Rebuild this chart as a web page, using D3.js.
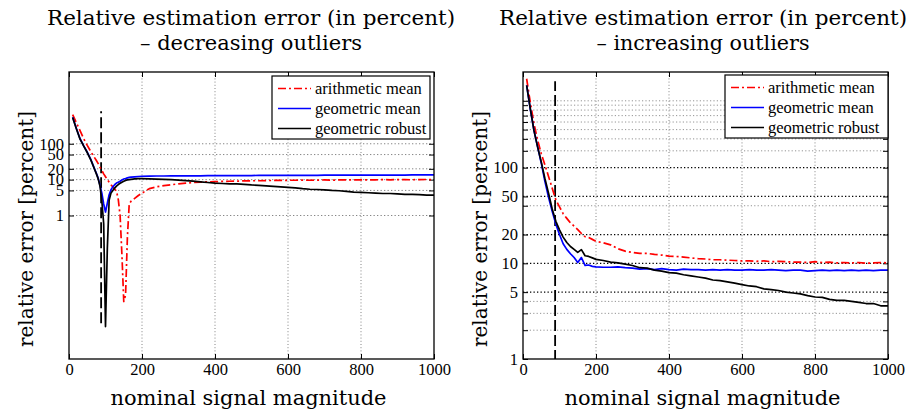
<!DOCTYPE html>
<html>
<head>
<meta charset="utf-8">
<script src="https://cdn.jsdelivr.net/npm/d3@7"></script>
<style>
  body { margin: 0; background: #fff; }
  text { font-family: "Liberation Serif", "Times New Roman", serif; fill: #000; }
</style>
</head>
<body>
<script>
// Canvas size
const width = 907, height = 413;

// ---- data: decreasing outliers (left) ----
const xLeft = [10, 20, 30, 40, 50, 60, 70, 75, 80, 85, 90, 95, 100, 105, 110, 115, 120, 125, 130, 135,
  140, 145, 150, 155, 160, 165, 170, 180, 190, 200,
  220, 240, 260, 280, 300, 320, 340, 360, 380, 400, 420, 440, 460, 480, 500, 520, 540, 560, 580, 600,
  620, 640, 660, 680, 700, 720, 740, 760, 780, 800, 820, 840, 860, 880, 900, 920, 940, 960, 980, 1000];
const leftArith = [650, 390, 235, 140, 90, 60, 41, 34, 28, 22, 18, 14.5, 12, 10, 8.5, 7.2, 6.3, 5.5, 4.8, 2.8,
  1.0, 0.08, 0.004, 0.006, 0.25, 2.1, 2.5, 3.0, 3.6, 4.2,
  5.6, 6.3, 6.8, 7.2, 7.6, 8.0, 8.3, 8.5, 8.7, 8.8, 8.9, 9.0, 9.1, 9.2, 9.3, 9.3, 9.4, 9.5, 9.5, 9.6,
  9.6, 9.7, 9.6, 9.7, 9.8, 9.7, 9.8, 9.8, 9.9, 9.8, 9.9, 9.9, 10.0, 9.9, 10.0, 10.0, 9.9, 10.0, 10.1, 10.0];
const leftGeo = [550, 270, 140, 89, 58, 36, 20, 15, 11, 6.8, 4.2, 2.1, 1.25, 2.2, 3.8, 5.2, 6.3, 7.2, 8.0, 8.5,
  9.0, 9.8, 10.4, 10.7, 11.2, 11.5, 11.8, 12.0, 12.2, 12.4,
  12.5, 12.6, 12.6, 12.7, 12.7, 12.8, 12.8, 12.8, 12.9, 12.9, 12.9, 13.0, 13.0, 13.0, 13.0, 13.1, 13.1, 13.1, 13.1, 13.2,
  13.2, 13.2, 13.2, 13.2, 13.3, 13.3, 13.3, 13.3, 13.3, 13.3, 13.4, 13.4, 13.4, 13.4, 13.4, 13.4, 13.5, 13.5, 13.5, 13.5];
const leftRobust = [540, 265, 137, 87, 57, 35, 19.5, 14.5, 10.5, 6.5, 2.5, 0.6, 0.0008, 0.12, 2.7, 4.2, 5.0, 5.8, 6.6, 7.3,
  7.9, 8.5, 9.0, 9.5, 9.8, 10.0, 10.2, 10.5, 10.7, 10.7,
  10.5, 10.3, 10.2, 10.0, 9.7, 9.4, 9.1, 8.7, 8.3, 8.0, 7.8, 7.6, 7.6, 7.4, 7.1, 6.9, 6.7, 6.5, 6.3, 6.1,
  5.9, 5.6, 5.4, 5.3, 5.2, 5.0, 4.9, 4.7, 4.5, 4.4, 4.3, 4.2, 4.1, 4.1, 4.0, 3.9, 3.9, 3.8, 3.7, 3.7];

// ---- data: increasing outliers (right) ----
const xRight = [10, 20, 30, 40, 50, 60, 70, 80, 90, 100, 110, 120, 130, 140, 150, 160, 170, 180, 190, 200,
  220, 240, 260, 280, 300, 320, 340, 360, 380, 400, 420, 440, 460, 480, 500, 520, 540, 560, 580, 600,
  620, 640, 660, 680, 700, 720, 740, 760, 780, 800, 820, 840, 860, 880, 900, 920, 940, 960, 980, 1000];
const rightArith = [850, 480, 290, 195, 140, 107, 81, 61, 46, 39, 33, 29.5, 26.5, 24.5, 22.5, 20.5, 19, 18.6, 17.8, 17,
  16.4, 15.6, 14.2, 13.4, 13.0, 12.7, 12.7, 12.4, 12.2, 11.9, 11.8, 11.6, 11.4, 11.2, 11.1, 10.9, 10.9, 10.8, 10.7, 10.6,
  10.6, 10.5, 10.6, 10.4, 10.5, 10.4, 10.3, 10.3, 10.2, 10.4, 10.2, 10.3, 10.1, 10.2, 10.1, 10.2, 10.0, 10.1, 10.2, 10.1];
const rightGeo = [725, 410, 245, 165, 112, 72, 49, 35, 25.7, 20, 16, 14, 12.6, 11.5, 10.2, 11.5, 9.5, 9.6, 9.3, 9.2,
  9.1, 9.1, 9.2, 9.0, 8.9, 8.7, 8.8, 8.6, 8.8, 8.6, 8.5, 8.7, 8.6, 8.6, 8.5, 8.6, 8.5, 8.6, 8.5, 8.5,
  8.6, 8.5, 8.5, 8.6, 8.5, 8.4, 8.5, 8.5, 8.3, 8.4, 8.5, 8.4, 8.5, 8.4, 8.5, 8.4, 8.5, 8.4, 8.5, 8.5];
const rightRobust = [725, 415, 245, 165, 115, 77, 54, 37, 27.5, 22.4, 18.8, 16.5, 15.0, 14.0, 13.0, 13.9, 12.0, 11.8, 11.4, 11.0,
  10.7, 10.3, 10.1, 9.8, 9.5, 9.0, 8.9, 8.5, 8.3, 8.0, 7.9, 7.6, 7.4, 7.2, 7.0, 6.7, 6.6, 6.4, 6.2, 6.0,
  5.8, 5.7, 5.4, 5.3, 5.2, 5.0, 4.9, 4.8, 4.6, 4.45, 4.4, 4.2, 4.1, 4.1, 4.0, 3.9, 3.8, 3.8, 3.6, 3.6];

// vertical marker (dashed) and tick values
const markerX = 88, markerRange = [0.001, 800];
const xTicks = [0, 200, 400, 600, 800, 1000];
const yTicks = [1, 5, 10, 20, 50, 100];
const yMinorRight = [2, 3, 4, 40, 150, 200, 250, 300, 350, 400, 450, 500];
const legendLabels = ["arithmetic mean", "geometric mean", "geometric robust"];

const serif = "Liberation Serif";   // MATLAB tick / legend text
const texFont = "DejaVu Serif";     // LaTeX-like titles and axis labels

const svg = d3.select("body").append("svg")
    .attr("width", width)
    .attr("height", height);

const plotTop = 72, plotBottom = 359;

function drawPanel(p) {
  const x = d3.scaleLinear().domain([0, 1000]).range([p.left, p.right]);
  const y = d3.scaleLog().domain(p.yDomain).range([plotBottom, plotTop]);
  const g = svg.append("g");

  g.append("clipPath").attr("id", p.id)
    .append("rect").attr("x", p.left).attr("y", plotTop)
    .attr("width", p.right - p.left).attr("height", plotBottom - plotTop);

  // vertical grid
  g.selectAll(".vg").data(xTicks.slice(1, -1)).enter().append("line")
    .attr("x1", d => x(d)).attr("x2", d => x(d))
    .attr("y1", plotTop).attr("y2", plotBottom)
    .attr("stroke", "#666").attr("stroke-width", 0.8).attr("stroke-dasharray", "1,2.2");

  // minor horizontal grid
  g.selectAll(".mg").data(p.minor).enter().append("line")
    .attr("x1", p.left).attr("x2", p.right)
    .attr("y1", d => y(d)).attr("y2", d => y(d))
    .attr("stroke", "#888").attr("stroke-width", 0.9).attr("stroke-dasharray", "1.2,2.2");

  // major horizontal grid
  g.selectAll(".hg").data(yTicks.filter(d => d > p.yDomain[0])).enter().append("line")
    .attr("x1", p.left).attr("x2", p.right)
    .attr("y1", d => y(d)).attr("y2", d => y(d))
    .attr("stroke", p.majorColor).attr("stroke-width", p.majorWidth).attr("stroke-dasharray", "1.3,2.2");

  // axes with inward ticks
  const allY = yTicks.concat(p.minor);
  g.append("g").attr("transform", `translate(0,${plotBottom})`)
    .call(d3.axisBottom(x).tickValues(xTicks).tickSize(-5).tickPadding(4).tickFormat(d3.format("d")))
    .call(a => a.select(".domain").remove())
    .call(a => a.selectAll("text").style("font-size", "16.5px").style("font-family", serif));
  g.append("g").attr("transform", `translate(0,${plotTop})`)
    .call(d3.axisTop(x).tickValues(xTicks).tickSize(-5).tickFormat(""))
    .call(a => a.select(".domain").remove());
  g.append("g").attr("transform", `translate(${p.left},0)`)
    .call(d3.axisLeft(y).tickValues(yTicks).tickSize(-5).tickPadding(5).tickFormat(d3.format("d")))
    .call(a => a.select(".domain").remove())
    .call(a => a.selectAll("text").style("font-size", "16.5px").style("font-family", serif));
  g.append("g").attr("transform", `translate(${p.left},0)`)
    .call(d3.axisLeft(y).tickValues(p.minor).tickSize(-5).tickFormat(""))
    .call(a => a.select(".domain").remove());
  g.append("g").attr("transform", `translate(${p.right},0)`)
    .call(d3.axisRight(y).tickValues(allY).tickSize(-5).tickFormat(""))
    .call(a => a.select(".domain").remove());

  // data lines
  const plot = g.append("g").attr("clip-path", `url(#${p.id})`);
  plot.append("line")
    .attr("x1", x(markerX)).attr("x2", x(markerX))
    .attr("y1", y(markerRange[0])).attr("y2", y(markerRange[1]))
    .attr("stroke", "#000").attr("stroke-width", 1.8).attr("stroke-dasharray", "11,4");

  p.series.forEach(s => {
    const line = d3.line().x((d, i) => x(p.xs[i])).y(d => y(d));
    plot.append("path").datum(s.values)
      .attr("d", line)
      .attr("fill", "none")
      .attr("stroke", s.color)
      .attr("stroke-width", 1.7)
      .attr("stroke-linejoin", "round")
      .attr("stroke-dasharray", s.dash);
  });

  // frame
  g.append("rect").attr("x", p.left).attr("y", plotTop)
    .attr("width", p.right - p.left).attr("height", plotBottom - plotTop)
    .attr("fill", "none").attr("stroke", "#000").attr("stroke-width", 1.3);

  // legend
  const lg = g.append("g").attr("transform", `translate(${p.legend[0]},${p.legend[1]})`);
  lg.append("rect").attr("width", p.legend[2]).attr("height", 63)
    .attr("fill", "#fff").attr("stroke", "#000").attr("stroke-width", 1.2);
  p.series.forEach((s, i) => {
    const ly = 12.5 + i * 20;
    lg.append("line").attr("x1", 6).attr("x2", 39).attr("y1", ly).attr("y2", ly)
      .attr("stroke", s.color).attr("stroke-width", 1.7).attr("stroke-dasharray", s.dash);
    lg.append("text").attr("x", 43).attr("y", ly + 5.5)
      .style("font-family", serif).style("font-size", "16.5px").text(legendLabels[i]);
  });

  // titles and labels
  const cx = (p.left + p.right) / 2;
  const big = (sel) => sel.style("font-family", texFont).style("font-size", "20px")
    .style("font-weight", "normal").attr("lengthAdjust", "spacingAndGlyphs");
  svg.append("text").attr("x", p.titleX).attr("y", 25).attr("text-anchor", "middle")
    .attr("textLength", 408).call(big).text("Relative estimation error (in percent)");
  svg.append("text").attr("x", p.titleX).attr("y", 50).attr("text-anchor", "middle")
    .attr("textLength", p.title2Len).call(big).text(p.title2);
  svg.append("text").attr("x", cx - 3).attr("y", 405).attr("text-anchor", "middle")
    .attr("textLength", 276).call(big).text("nominal signal magnitude");
  svg.append("text")
    .attr("transform", `translate(${p.left - 36},${229}) rotate(-90)`)
    .attr("text-anchor", "middle")
    .attr("textLength", 236).call(big).text("relative error [percent]");
}

drawPanel({
  id: "clipL", left: 69, right: 434, yDomain: [1e-4, 1e4], xs: xLeft,
  minor: [], majorColor: "#777", majorWidth: 0.9,
  legend: [272, 76, 158], titleX: 251, title2: "\u2013 decreasing outliers", title2Len: 222,
  series: [
    { values: leftArith, color: "#ff0000", dash: "8,3,2,3" },
    { values: leftGeo, color: "#0000ff", dash: null },
    { values: leftRobust, color: "#000000", dash: null }
  ]
});

drawPanel({
  id: "clipR", left: 523, right: 888, yDomain: [1, 1000], xs: xRight,
  minor: yMinorRight, majorColor: "#000", majorWidth: 1.3,
  legend: [725, 75, 163], titleX: 703, title2: "\u2013 increasing outliers", title2Len: 213,
  series: [
    { values: rightArith, color: "#ff0000", dash: "8,3,2,3" },
    { values: rightGeo, color: "#0000ff", dash: null },
    { values: rightRobust, color: "#000000", dash: null }
  ]
});
</script>
</body>
</html>
